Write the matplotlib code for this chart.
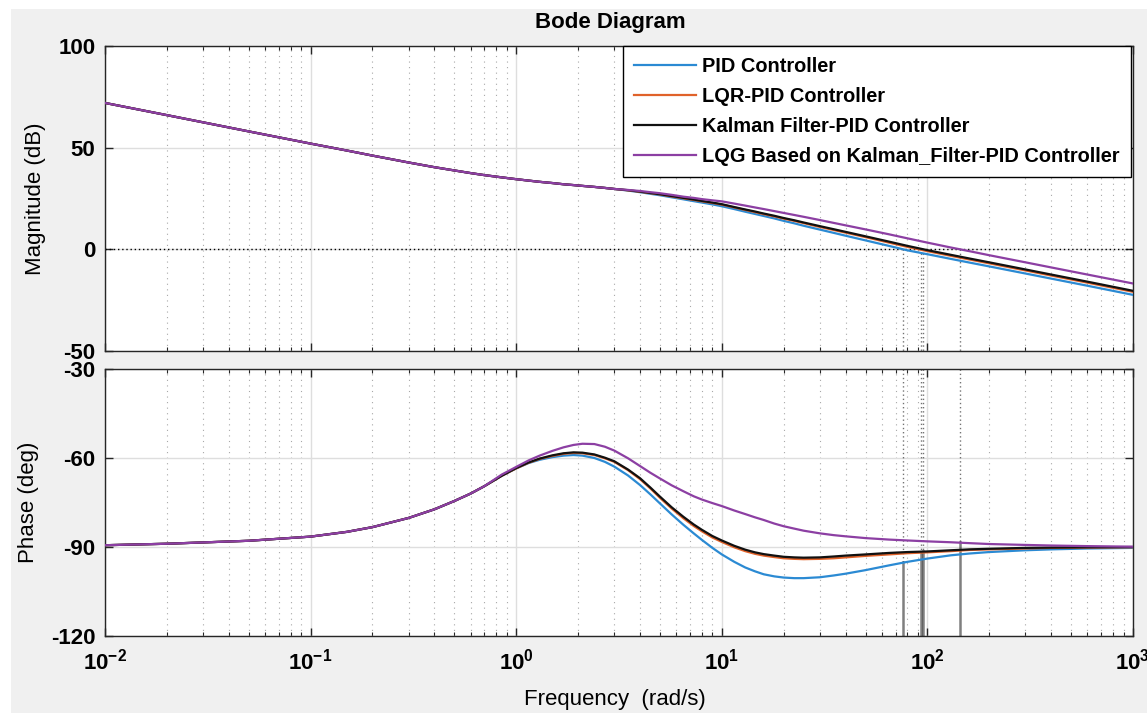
import numpy as np
import matplotlib
matplotlib.use("Agg")
import matplotlib.pyplot as plt
from matplotlib.patches import Rectangle
from matplotlib.ticker import LogLocator, FixedLocator, NullFormatter, FixedFormatter

plt.rcParams['font.family'] = ['Liberation Sans', 'DejaVu Sans']
plt.rcParams['mathtext.fontset'] = 'custom'
plt.rcParams['mathtext.rm'] = 'Liberation Sans'
plt.rcParams['mathtext.bf'] = 'Liberation Sans:bold'

# ---------------- data ----------------
freq = [0.01, 0.02, 0.05, 0.1, 0.15, 0.2, 0.3, 0.4, 0.5, 0.6, 0.7,
        0.85, 1.0, 1.15, 1.3, 1.5, 1.7, 1.9, 2.1, 2.4, 2.7,
        3.0, 3.5, 4.0, 4.5, 5.0, 5.7, 6.5, 7.3, 8.0, 9,
        10, 11.5, 13, 14.5, 16, 18, 20, 22.5, 25, 30,
        35, 40, 50, 65, 80, 100, 130, 160, 200, 300,
        400, 600, 1000]

# magnitude (dB): common low-frequency part (0.01 .. 3 rad/s)
mag_low = [72.0, 66.0, 58.0, 52.0, 48.6, 46.1, 42.7, 40.4, 38.8, 37.5, 36.5,
           35.4, 34.5, 33.8, 33.2, 32.6, 32.0, 31.6, 31.2, 30.7, 30.2, 29.7]

mag_pid = mag_low + [28.9, 28.1, 27.3, 26.6, 25.6, 24.6, 23.7, 23.0, 22.1,
                     21.2, 19.8, 18.5, 17.4, 16.4, 15.2, 14.0, 12.8, 11.6, 9.7,
                     8.1, 6.7, 4.4, 1.7, -0.5, -2.4, -4.7, -6.5, -8.4, -11.9,
                     -14.4, -17.9, -22.4]
mag_lqr = mag_low + [29.0, 28.3, 27.6, 27.0, 26.0, 25.1, 24.3, 23.6, 22.8,
                     22.0, 20.6, 19.4, 18.3, 17.3, 16.2, 15.1, 14.0, 12.9, 11.0,
                     9.5, 8.2, 6.0, 3.3, 1.2, -0.9, -3.2, -5.0, -6.9, -10.4,
                     -12.9, -16.4, -20.9]
mag_kal = mag_low + [29.1, 28.4, 27.7, 27.1, 26.2, 25.3, 24.5, 23.8, 23.0,
                     22.2, 20.8, 19.6, 18.6, 17.6, 16.5, 15.4, 14.3, 13.2, 11.4,
                     9.9, 8.6, 6.4, 3.8, 1.7, -0.4, -2.7, -4.5, -6.4, -9.9,
                     -12.4, -15.9, -20.4]
mag_lqg = mag_low + [29.2, 28.7, 28.1, 27.6, 26.8, 25.9, 25.3, 24.7, 24.1,
                     23.6, 22.5, 21.5, 20.6, 19.8, 18.8, 17.9, 16.9, 16.0, 14.4,
                     13.0, 11.8, 9.8, 7.4, 5.4, 3.3, 0.9, -0.9, -2.9, -6.4,
                     -8.9, -12.4, -16.8]

# phase (deg): common low-frequency part (0.01 .. 0.7 rad/s)
ph_low = [-89.4, -88.9, -87.9, -86.5, -84.9, -83.3, -80.2, -77.3, -74.5, -72.0, -69.5]

ph_pid = ph_low + [-66.0, -63.5, -61.7, -60.6, -59.7, -59.2, -59.0, -59.2, -60.0, -61.3,
                   -62.9, -65.9, -69.1, -72.3, -75.3, -79.0, -82.5, -85.4, -87.6, -90.3,
                   -92.5, -95.0, -96.9, -98.2, -99.2, -99.9, -100.3, -100.5, -100.5, -100.2,
                   -99.6, -99.0, -97.8, -96.2, -95.0, -93.9, -92.8, -92.2, -91.7, -91.1,
                   -90.8, -90.5, -90.3]
ph_lqr = ph_low + [-66.0, -63.5, -61.6, -60.3, -59.3, -58.6, -58.3, -58.4, -59.0, -60.1,
                   -61.3, -64.1, -67.1, -70.3, -73.4, -77.0, -80.3, -82.9, -84.7, -86.8,
                   -88.3, -90.1, -91.4, -92.3, -92.9, -93.4, -93.8, -94.0, -94.1, -94.0,
                   -93.8, -93.5, -93.0, -92.5, -92.1, -91.8, -91.4, -91.0, -90.8, -90.5,
                   -90.3, -90.2, -90.1]
ph_kal = ph_low + [-66.0, -63.4, -61.5, -60.2, -59.1, -58.4, -58.1, -58.2, -58.8, -59.9,
                   -61.1, -63.9, -66.8, -70.0, -73.0, -76.6, -79.8, -82.4, -84.2, -86.3,
                   -87.8, -89.6, -90.9, -91.8, -92.4, -92.9, -93.3, -93.5, -93.6, -93.5,
                   -93.2, -92.9, -92.5, -92.0, -91.7, -91.5, -91.1, -90.8, -90.6, -90.3,
                   -90.2, -90.1, -90.0]
ph_lqg = ph_low + [-65.6, -63.0, -60.8, -59.2, -57.6, -56.4, -55.6, -55.2, -55.3, -56.2,
                   -57.5, -60.1, -62.7, -65.0, -66.9, -69.2, -71.2, -72.9, -74.0, -75.2,
                   -76.2, -77.7, -78.9, -80.0, -80.9, -82.1, -83.0, -83.8, -84.5, -85.4,
                   -86.0, -86.4, -87.0, -87.5, -87.8, -88.1, -88.4, -88.7, -89.0, -89.3,
                   -89.5, -89.7, -89.9]

labels = ["PID Controller", "LQR-PID Controller", "Kalman Filter-PID Controller",
          "LQG Based on Kalman_Filter-PID Controller"]
colors = ["#2b8ad3", "#e0622a", "#111111", "#8c3fa3"]

# gain crossover frequencies and phase there (stability-margin markers)
wc = [76, 93.5, 95.5, 144]
phase_at_wc = [-95.2, -91.9, -91.5, -88.4]

mag_ticks = [-50, 0, 50, 100]
phase_ticks = [-120, -90, -60, -30]
x_decades = [1e-2, 1e-1, 1e0, 1e1, 1e2, 1e3]
x_ticklabels = [r'$\mathbf{10^{-2}}$', r'$\mathbf{10^{-1}}$', r'$\mathbf{10^{0}}$',
                r'$\mathbf{10^{1}}$', r'$\mathbf{10^{2}}$', r'$\mathbf{10^{3}}$']

# ---------------- figure ----------------
W, H = 1147, 713
fig = plt.figure(figsize=(W / 100, H / 100), dpi=100, facecolor='white')
fig.patches.append(Rectangle((11 / W, 0), 1, 1 - 9 / H, transform=fig.transFigure,
                             facecolor='#f0f0f0', edgecolor='none', zorder=-10))

L, R = 105 / W, 1133 / W
ax1 = fig.add_axes([L, 1 - 351 / H, R - L, (351 - 46) / H])
ax2 = fig.add_axes([L, 1 - 636 / H, R - L, (636 - 369) / H], sharex=ax1)

spine_c = '#262626'
for ax in (ax1, ax2):
    ax.set_facecolor('white')
    ax.set_xscale('log')
    ax.set_xlim(1e-2, 1e3)
    for s in ax.spines.values():
        s.set_color(spine_c)
        s.set_linewidth(1.0)
    ax.tick_params(which='both', direction='in', top=True, right=True, color=spine_c)
    ax.tick_params(which='major', length=6, width=1.0, labelsize=16, pad=7)
    ax.tick_params(which='minor', length=3, width=0.8)
    ax.xaxis.set_major_locator(FixedLocator(x_decades))
    ax.xaxis.set_minor_locator(LogLocator(base=10, subs=np.arange(2, 10)))
    ax.xaxis.set_minor_formatter(NullFormatter())
    ax.grid(True, which='major', color='#dedede', linewidth=1.0, linestyle='-')
    ax.grid(True, which='minor', axis='x', color='#a8a8a8', linewidth=0.8,
            linestyle=(0, (1, 4)))
    ax.set_axisbelow(True)

# magnitude
series_mag = [mag_pid, mag_lqr, mag_kal, mag_lqg]
for y, c, lab in zip(series_mag, colors, labels):
    ax1.plot(freq, y, color=c, lw=1.6, label=lab, zorder=3)
ax1.axhline(0, color='black', lw=1.0, linestyle=(0, (1, 2)), zorder=2)
ax1.set_ylim(-50, 100)
ax1.set_yticks(mag_ticks)
ax1.set_yticklabels([str(t) for t in mag_ticks], fontweight='bold')
plt.setp(ax1.get_xticklabels(), visible=False)
ax1.set_ylabel('Magnitude (dB)', fontsize=16)
ax1.yaxis.set_label_coords(-0.057, 0.5)

# phase
series_ph = [ph_pid, ph_lqr, ph_kal, ph_lqg]
for y, c in zip(series_ph, colors):
    ax2.plot(freq, y, color=c, lw=1.6, zorder=3)
ax2.set_ylim(-120, -30)
ax2.set_yticks(phase_ticks)
ax2.set_yticklabels([str(t) for t in phase_ticks], fontweight='bold')
ax2.xaxis.set_major_formatter(FixedFormatter(x_ticklabels))
ax2.tick_params(axis='x', which='major', pad=9)
ax2.set_ylabel('Phase (deg)', fontsize=16)
ax2.yaxis.set_label_coords(-0.064, 0.5)

# stability-margin markers at the gain crossover frequencies
for w, p in zip(wc, phase_at_wc):
    ax1.plot([w, w], [0, -50], color='black', alpha=0.55, lw=1.0,
             linestyle=(0, (1, 2)), zorder=2)
    ax2.plot([w, w], [-30, p], color='black', alpha=0.55, lw=1.0,
             linestyle=(0, (1, 2)), zorder=2)
    ax2.plot([w, w], [-180, p], color='black', alpha=0.5, lw=1.8, zorder=2)

leg = ax1.legend(loc='upper right', bbox_to_anchor=(0.998, 1.0), borderaxespad=0.0,
                 prop={'weight': 'bold', 'size': 14.4}, fancybox=False, framealpha=1,
                 edgecolor='black', handlelength=3.1, handletextpad=0.3,
                 borderpad=0.55, labelspacing=0.55)
leg.get_frame().set_linewidth(1.0)

fig.text(610 / W, 1 - 22.5 / H, 'Bode Diagram', ha='center', va='center',
         fontsize=16, fontweight='bold')
fig.text(615 / W, 1 - 699 / H, 'Frequency  (rad/s)', ha='center', va='center',
         fontsize=16)

fig.savefig('out.png', dpi=100, facecolor=fig.get_facecolor())
